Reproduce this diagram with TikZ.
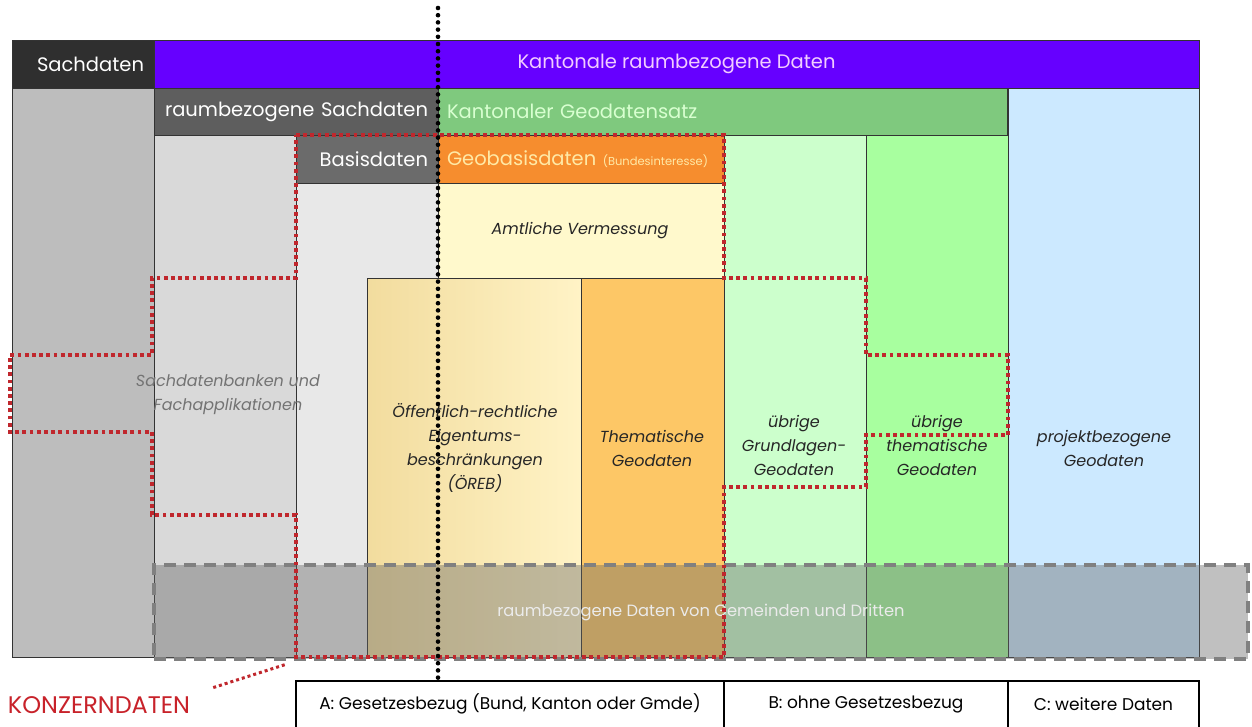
\documentclass[tikz,border=0pt]{standalone}
\usepackage{fontspec}
\setmainfont{Poppins}
\usetikzlibrary{backgrounds}

\definecolor{sachgray}{HTML}{2F2F2F}
\definecolor{kantviolet}{HTML}{6600FF}
\definecolor{kanttext}{HTML}{F2CCFF}
\definecolor{lgray}{HTML}{BDBDBD}
\definecolor{rsgray}{HTML}{5E5E5E}
\definecolor{kgreen}{HTML}{7FC97E}
\definecolor{kgtext}{HTML}{D8FFD0}
\definecolor{basgray}{HTML}{6B6B6B}
\definecolor{gorange}{HTML}{F68D2E}
\definecolor{gotext}{HTML}{FFE9A6}
\definecolor{cgrayA}{HTML}{D9D9D9}
\definecolor{cgrayB}{HTML}{E8E8E8}
\definecolor{avyellow}{HTML}{FFF9CC}
\definecolor{orebL}{HTML}{F2DC9E}
\definecolor{orebR}{HTML}{FFF3C6}
\definecolor{themorange}{HTML}{FDC766}
\definecolor{ugreen}{HTML}{CCFFCC}
\definecolor{tgreen}{HTML}{A8FF9F}
\definecolor{pblue}{HTML}{CCE9FF}
\definecolor{gemgray}{HTML}{636363}
\definecolor{gemline}{HTML}{808080}
\definecolor{konzred}{HTML}{C8222A}
\definecolor{dotred}{HTML}{C0272D}

\begin{document}
\begin{tikzpicture}[x=1pt,y=-1pt,
    cell/.style={draw=black!80,line width=0.8pt,anchor=north west,inner sep=0pt,outer sep=0pt},
    bar/.style={cell,font=\fontsize{19.5}{22}\selectfont,inner xsep=10pt},
    lbl/.style={font=\itshape\fontsize{16}{24}\selectfont,align=center,text=black!85},
    leg/.style={cell,draw=black,line width=1.6pt,font=\fontsize{17}{20}\selectfont},
    reddot/.style={draw=dotred,line width=3.8pt,dash pattern=on 3.8pt off 3.4pt},
    blackdot/.style={draw=black,line width=4.6pt,line cap=round,dash pattern=on 0pt off 7.2pt}]
    \useasboundingbox (0,0) rectangle (1252,726);
    \fill[white] (0,0) rectangle (1252,726);

    % columns
    \node[cell,fill=lgray,minimum width=142,minimum height=569] (lcol) at (12,88) {};
    \node[cell,fill=cgrayA,minimum width=142,minimum height=522] (sdbcol) at (154,135) {};
    \node[cell,fill=cgrayB,minimum width=142,minimum height=474] (bascol) at (296,183) {};
    \node[cell,fill=avyellow,minimum width=286,minimum height=95] (avbox) at (438,183) {};
    \node[cell,left color=orebL,right color=orebR,minimum width=214,minimum height=379] (orebbox) at (367,278) {};
    \node[cell,fill=themorange,minimum width=143,minimum height=379] (thembox) at (581,278) {};
    \node[cell,fill=ugreen,minimum width=142,minimum height=522] (ugbox) at (724,135) {};
    \node[cell,fill=tgreen,minimum width=142,minimum height=522] (utbox) at (866,135) {};
    \node[cell,fill=pblue,minimum width=191,minimum height=569] (projbox) at (1008,88) {};

    % header bars
    \node[bar,fill=sachgray,text=white,minimum height=48,text width=122,align=right] (sach) at (12,40) {Sachdaten};
    \node[bar,fill=kantviolet,text=kanttext,minimum width=1045,minimum height=48] (kant) at (154,40) {Kantonale raumbezogene Daten};
    \node[bar,fill=rsgray,text=white,minimum height=47,text width=264,align=right] (rsach) at (154,88) {raumbezogene Sachdaten};
    \node[bar,fill=kgreen,text=kgtext,minimum height=47,text width=551,align=left,inner xsep=9pt] (kgeo) at (438,88) {Kantonaler Geodatensatz};
    \node[bar,fill=basgray,text=white,minimum height=48,text width=122,align=right] (basis) at (296,135) {Basisdaten};
    \node[bar,fill=gorange,text=gotext,minimum height=48,text width=268,align=left,inner xsep=9pt] (gbasis) at (438,135)
      {Geobasisdaten {\fontsize{11.5}{12}\selectfont(Bundesinteresse)}};

    % Gemeinden und Dritte
    \node[anchor=north west,inner sep=0pt,fill=gemgray,fill opacity=0.4,text opacity=1,
      draw=gemline,draw opacity=1,line width=4pt,dash pattern=on 12pt off 8pt,
      minimum width=1094,minimum height=94,text=white!92!black,
      font=\fontsize{16.3}{18}\selectfont] (gem) at (152,563) {raumbezogene Daten von Gemeinden und Dritten};

    % Konzerndaten
    \draw[reddot] (296,135) -- (724,135) -- (724,278) -- (866,278) -- (866,355) -- (1008,355)
      -- (1008,435) -- (866,435) -- (866,487) -- (724,487) -- (724,657) -- (296,657)
      -- (296,515) -- (152,515) -- (152,432) -- (10,432) -- (10,355) -- (152,355)
      -- (152,278) -- (296,278) -- cycle;
    \node[text=konzred,font=\fontsize{24}{26}\selectfont,inner sep=2pt] (konz) at (99,705) {KONZERNDATEN};
    \coordinate (kend) at (287,664);
    \draw[reddot,line width=3pt,dash pattern=on 3pt off 3pt,shorten <=22pt] (konz.north east) -- (kend);

    \draw[blackdot] (438,8) -- (438,678);

    % labels
    \node[lbl,text=black!55] (sdb) at (228,395) {Sachdatenbanken und\\Fachapplikationen};
    \node[lbl] (av) at (580,231) {Amtliche Vermessung};
    \node[lbl] (oreb) at (475,448) {Öffentlich-rechtliche\\Eigentums-\\beschränkungen\\(ÖREB)};
    \node[lbl] (them) at (652,448) {Thematische\\Geodaten};
    \node[lbl] (ugrund) at (794,445) {übrige\\Grundlagen-\\Geodaten};
    \node[lbl] (uthem) at (937,445) {übrige\\thematische\\Geodaten};
    \node[lbl] (proj) at (1104,448) {projektbezogene\\Geodaten};

    % legend
    \node[leg,minimum width=428,minimum height=70] (lega) at (296,681) {};
    \node[leg,minimum width=284,minimum height=70] (legb) at (724,681) {};
    \node[leg,minimum width=191,minimum height=70] (legc) at (1008,681) {};
    \node[font=\fontsize{17}{20}\selectfont] (legatxt) at (lega.center |- 0,704) {A: Gesetzesbezug (Bund, Kanton oder Gmde)};
    \node[font=\fontsize{17}{20}\selectfont] (legbtxt) at (legb.center |- 0,704) {B: ohne Gesetzesbezug};
    \node[font=\fontsize{17}{20}\selectfont] (legctxt) at (legc.center |- 0,704) {C: weitere Daten};
\end{tikzpicture}
\end{document}
